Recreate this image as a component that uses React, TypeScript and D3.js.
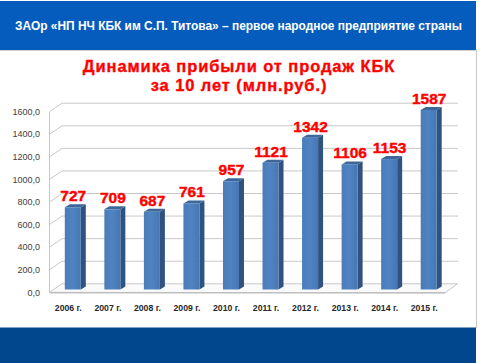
import React from "react";
import * as d3 from "d3";

const years = ["2006 г.", "2007 г.", "2008 г.", "2009 г.", "2010 г.", "2011 г.", "2012 г.", "2013 г.", "2014 г.", "2015 г."];
const profit = [727, 709, 687, 761, 957, 1121, 1342, 1106, 1153, 1587];
const yTicks = [0, 200, 400, 600, 800, 1000, 1200, 1400, 1600];
const headerText = "ЗАОр «НП НЧ КБК им С.П. Титова» – первое народное предприятие страны";
const titleLines = ["Динамика прибыли от продаж КБК", "за 10 лет (млн.руб.)"];

const W = 481;
const H = 363;

export default function App() {
  // axis (front-left edge) scale
  const yAxis = d3.scaleLinear().domain([0, 1600]).range([292.3, 111.7]);
  // bars (middle depth) scale
  const yBar = d3.scaleLinear().domain([0, 1600]).range([289.5, 108.5]);
  const x = d3.scalePoint<string>().domain(years).range([72.8, 428.7]);
  const dx = 12.5, dy = -8.5; // back wall offset
  const left = 49.5, right = 445;
  const bw = 16, bdx = 5, bdy = -3;
  const fmt = (v: number) => d3.format(".1f")(v).replace(".", ",");

  return (
    <svg width={W} height={H} style={{ position: "absolute", left: 0, top: 0, background: "#fff" }}
      fontFamily="'Liberation Sans', Arial, sans-serif">
      <defs>
        <linearGradient id="front" x1="0" x2="1" y1="0" y2="0">
          <stop offset="0" stopColor="#4a7cba" />
          <stop offset="0.5" stopColor="#5083c1" />
          <stop offset="1" stopColor="#4677b4" />
        </linearGradient>
      </defs>
      <rect x={0} y={0} width={W} height={H} fill="#fff" />
      {/* header */}
      <rect x={0} y={1} width={476} height={49} fill="#055cbd" />
      <line x1={0} x2={477} y1={50.5} y2={50.5} stroke="#d0d0d0" />
      <text x={238.5} y={30} fill="#fff" fontSize={12} fontWeight="bold" textAnchor="middle"
        textLength={447} lengthAdjust="spacingAndGlyphs">{headerText}</text>
      {/* right border */}
      <line x1={476.5} x2={476.5} y1={50} y2={328} stroke="#c8c8c8" />
      {/* footer */}
      <rect x={0} y={327.5} width={476} height={36} fill="#00478d" />
      {/* title */}
      {titleLines.map((t, i) => (
        <text key={i} x={239} y={72 + i * 18.5} fill="#ff0000" stroke="#ff0000" strokeWidth={0.35}
          fontSize={16.5} fontWeight="bold" textAnchor="middle" letterSpacing={0.9}>{t}</text>
      ))}
      {/* floor */}
      <polygon points={`${left},${yAxis(0)} ${right},${yAxis(0) + 0.5} ${right + dx},${yAxis(0) + dy} ${left + dx},${yAxis(0) + dy}`}
        fill="#fafafa" stroke="#c8c8c8" strokeWidth={1} />
      <line x1={left} x2={right} y1={yAxis(0) + 0.5} y2={yAxis(0) + 0.5} stroke="#bfbfbf" strokeWidth={1.5} />
      {/* left wall edge */}
      <line x1={left} x2={left} y1={yAxis(1600)} y2={yAxis(0)} stroke="#c8c8c8" />
      {/* gridlines */}
      {yTicks.map((v) => (
        <g key={v}>
          {v > 0 && (
            <polyline points={`${left},${yAxis(v)} ${left + dx},${yAxis(v) + dy} ${458},${yAxis(v) + dy}`}
              fill="none" stroke="#c8c8c8" strokeWidth={1} />
          )}
          <text x={40} y={yAxis(v) + 3.2} fontSize={9} fill="#404040" textAnchor="end">{fmt(v)}</text>
        </g>
      ))}
      {/* bars */}
      {profit.map((v, i) => {
        const cx = x(years[i])!;
        const x0 = cx - bw / 2, x1 = cx + bw / 2;
        const yt = yBar(v), yb = yBar(0);
        return (
          <g key={i}>
            <polygon points={`${x1},${yt} ${x1 + bdx},${yt + bdy} ${x1 + bdx},${yb + bdy} ${x1},${yb}`} fill="#30527f" />
            <polygon points={`${x0},${yt} ${x0 + bdx},${yt + bdy} ${x1 + bdx},${yt + bdy} ${x1},${yt}`} fill="#3d6699" />
            <rect x={x0} y={yt} width={bw} height={yb - yt} fill="url(#front)" />
            <text x={cx + 0.5} y={yt - 6} fontSize={15.5} fontWeight="bold" fill="#ff0000" stroke="#ff0000"
              strokeWidth={0.4} textAnchor="middle">{v}</text>
            <text x={cx - 4.5} y={311} fontSize={8.7} fontWeight="bold" fill="#262626" textAnchor="middle">{years[i]}</text>
          </g>
        );
      })}
    </svg>
  );
}
